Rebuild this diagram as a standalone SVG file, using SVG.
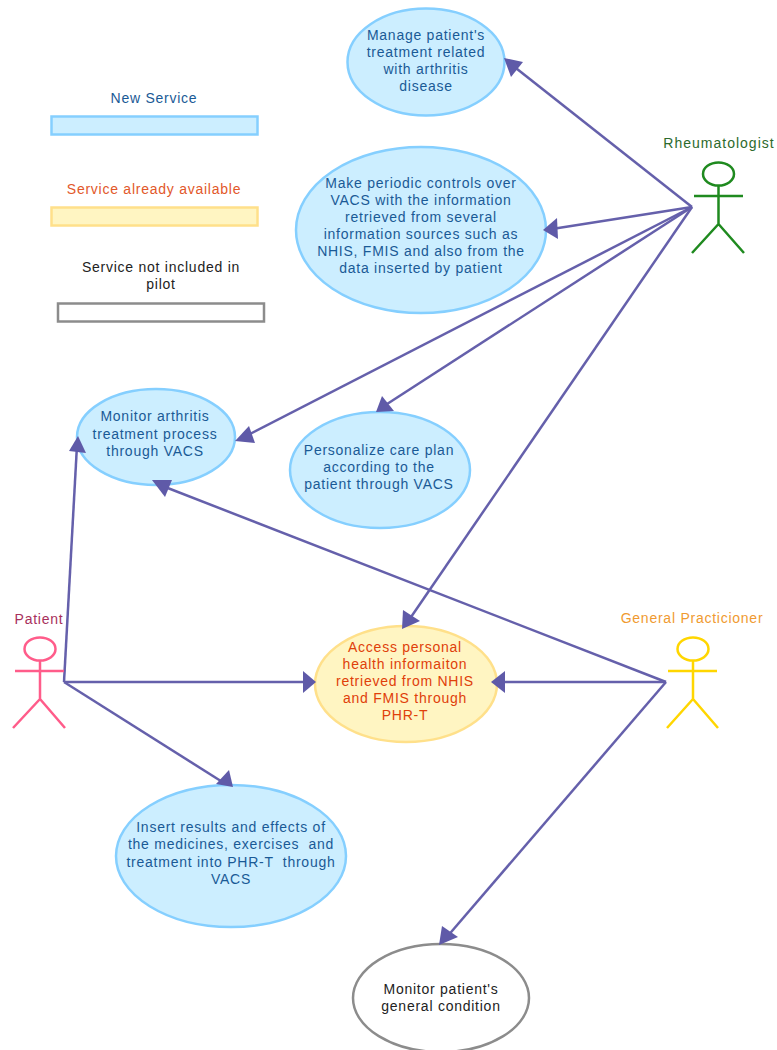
<svg xmlns="http://www.w3.org/2000/svg" width="777" height="1050" viewBox="0 0 777 1050">
<style>
text{font-family:"Liberation Sans",Arial,sans-serif;font-size:14px;text-anchor:middle;letter-spacing:.75px;white-space:pre}
.blue ellipse,rect.blue{fill:#cceeff;stroke:#85cfff;stroke-width:2.500}
.yel ellipse,rect.yel{fill:#fff5c2;stroke:#ffe08a;stroke-width:2.500}
.gray ellipse,rect.gray{fill:#fff;stroke:#8c8c8c;stroke-width:2.500}
.blue text{fill:#1a5a96}
.yel text{fill:#e0400a}
.gray text{fill:#222}
.act{fill:none;stroke-width:2.500}
#connectors line{stroke:#6560ab;stroke-width:2.500}
#heads path{fill:#5f5aa8}
</style>
<rect width="777" height="1050" fill="#fff"/>
<g id="legend-new"><text x="154" y="103" fill="#1a5a96">New Service</text><rect class="blue" x="51.500" y="116.500" width="206" height="18"/></g>
<g id="legend-available"><text x="154" y="194" fill="#e2582a">Service already available</text><rect class="yel" x="51.500" y="207.500" width="206" height="18"/></g>
<g id="legend-pilot"><text x="161" y="272" fill="#222">Service not included in</text><text x="161" y="289" fill="#222">pilot</text><rect class="gray" x="58" y="303.500" width="206" height="18"/></g>

<g id="connectors">
<line x1="692" y1="207" x2="512" y2="65"/>
<line x1="692" y1="207" x2="552" y2="229"/>
<line x1="692" y1="207" x2="244" y2="437"/>
<line x1="692" y1="207" x2="384" y2="406"/>
<line x1="692" y1="207" x2="409" y2="620"/>
<line x1="64" y1="682" x2="77" y2="445"/>
<line x1="64" y1="682" x2="308" y2="682"/>
<line x1="64" y1="682" x2="224" y2="783"/>
<line x1="666" y1="682" x2="160" y2="485"/>
<line x1="666" y1="682" x2="498" y2="682"/>
<line x1="666" y1="682" x2="446" y2="938"/>
</g>

<g id="n1" class="blue"><ellipse cx="426" cy="62" rx="78.500" ry="53.500"/><text x="426" y="40">Manage patient's</text><text x="426" y="57">treatment related</text><text x="426" y="74">with arthritis</text><text x="426" y="91">disease</text></g>
<g id="n2" class="blue"><ellipse cx="421" cy="230" rx="125" ry="83"/><text x="421" y="188">Make periodic controls over</text><text x="421" y="205">VACS with the information</text><text x="421" y="222">retrieved from several</text><text x="421" y="239">information sources such as</text><text x="421" y="256">NHIS, FMIS and also from the</text><text x="421" y="273">data inserted by patient</text></g>
<g id="n3" class="blue"><ellipse cx="156" cy="437" rx="79" ry="48"/><text x="155" y="421">Monitor arthritis</text><text x="155" y="439">treatment process</text><text x="155" y="456">through VACS</text></g>
<g id="n4" class="blue"><ellipse cx="380" cy="470" rx="90" ry="58"/><text x="379" y="455">Personalize care plan</text><text x="379" y="472">according to the</text><text x="379" y="489">patient through VACS</text></g>
<g id="n5" class="yel"><ellipse cx="406" cy="684" rx="91" ry="58"/><text x="405" y="652">Access personal</text><text x="405" y="669">health informaiton</text><text x="405" y="686">retrieved from NHIS</text><text x="405" y="703">and FMIS through</text><text x="405" y="720">PHR-T</text></g>
<g id="n6" class="blue"><ellipse cx="231" cy="856" rx="115" ry="71"/><text x="231" y="832">Insert results and effects of</text><text x="231" y="849">the medicines, exercises  and</text><text x="231" y="867">treatment into PHR-T  through</text><text x="231" y="884">VACS</text></g>
<g id="n7" class="gray"><ellipse cx="441" cy="998" rx="88" ry="54"/><text x="441" y="994">Monitor patient's</text><text x="441" y="1011">general condition</text></g>

<g id="heads">
<path d="M504 58 L523 62 L511 77Z"/>
<path d="M543 230 L557 218 L558 239Z"/>
<path d="M235 441 L249 426 L255 443Z"/>
<path d="M376 412 L382 396 L394 411Z"/>
<path d="M402 629 L403 610 L420 621Z"/>
<path d="M78 436 L86 453 L69 451Z"/>
<path d="M316 682 L303 671 L303 693Z"/>
<path d="M233 787 L216 784 L229 770Z"/>
<path d="M152 480 L172 480 L165 497Z"/>
<path d="M491 682 L505 671 L505 693Z"/>
<path d="M439 945 L442 926 L458 937Z"/>
</g>

<g id="rheumatologist"><text x="719" y="148" fill="#2c6a2c" style="letter-spacing:1px">Rheumatologist</text><g class="act" stroke="#1f8a1f"><ellipse cx="718.500" cy="174" rx="15.500" ry="11.500"/><path d="M718.500 185V224M694 196H743M718.500 224L692 253M718.500 224L744 253"/></g></g>
<g id="patient"><text x="39" y="624" fill="#a8305c">Patient</text><g class="act" stroke="#ff5c8a"><ellipse cx="40" cy="649" rx="15.500" ry="11.500"/><path d="M40 660V699M15 671H64M40 699L13 728M40 699L65 728"/></g></g>
<g id="general-practicioner"><text x="692" y="623" fill="#f09a30">General Practicioner</text><g class="act" stroke="#ffd600"><ellipse cx="693" cy="649" rx="15.500" ry="11.500"/><path d="M693 660V699M668 671H717M693 699L667 728M693 699L718 728"/></g></g>
</svg>
